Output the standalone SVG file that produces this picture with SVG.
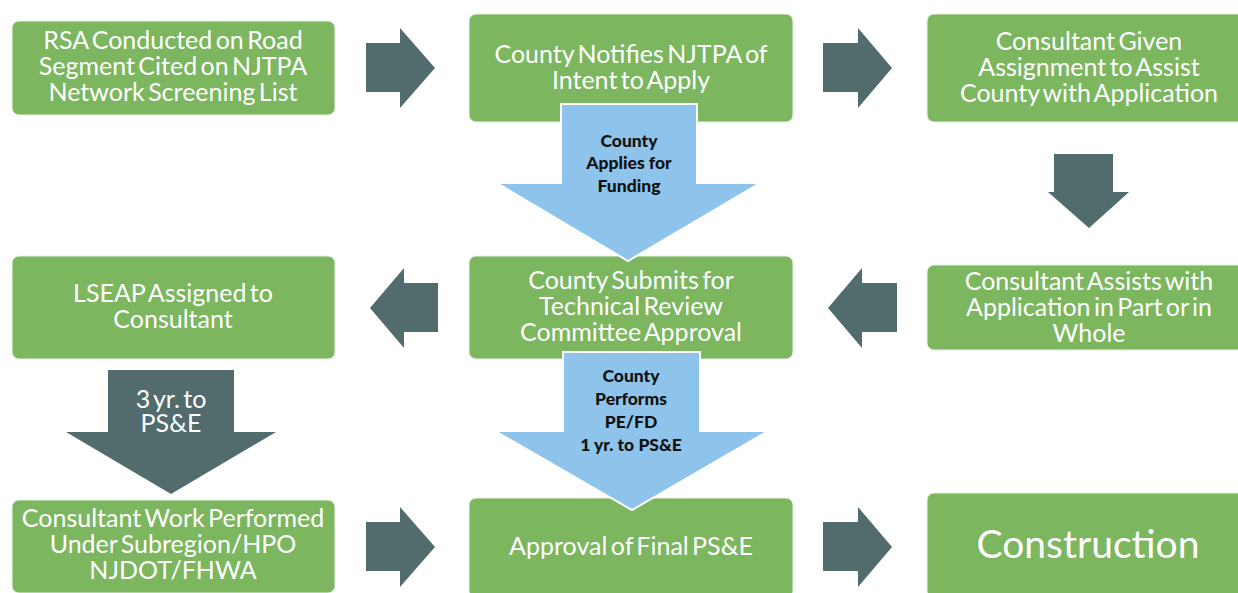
<svg xmlns="http://www.w3.org/2000/svg" width="1238" height="593" viewBox="0 0 1238 593">
  <style>
    .box { fill: #7cb65f; stroke: #e9f2e4; stroke-width: 1; }
    .flow { fill: #526b6c; }
    .note { fill: #8ec4eb; stroke: #ffffff; stroke-width: 2; stroke-linejoin: miter; }
    .t { font-family: Lato, "Liberation Sans", sans-serif; font-size: 25px; fill: #ffffff; text-anchor: middle; word-spacing: -3px; }
    .big { font-size: 39px; word-spacing: 0; }
    .b { font-family: Lato, "Liberation Sans", sans-serif; font-weight: 900; font-size: 17.5px; fill: #111111; text-anchor: middle; }
  </style>

  <!-- process steps -->
  <g id="rsa">
    <rect class="box" x="12" y="21" width="323" height="94" rx="7"/>
    <text class="t" x="173" y="49">RSA Conducted on Road</text>
    <text class="t" x="173" y="75">Segment Cited on NJTPA</text>
    <text class="t" x="173" y="101">Network Screening List</text>
  </g>
  <g id="notify">
    <rect class="box" x="469" y="14" width="324" height="108" rx="7"/>
    <text class="t" x="631" y="63">County Notifies NJTPA of</text>
    <text class="t" x="631" y="89">Intent to Apply</text>
  </g>
  <g id="consultant-given">
    <rect class="box" x="927" y="14" width="324" height="108" rx="7"/>
    <text class="t" x="1089" y="50">Consultant Given</text>
    <text class="t" x="1089" y="76">Assignment to Assist</text>
    <text class="t" x="1089" y="102">County with Application</text>
  </g>
  <g id="lseap">
    <rect class="box" x="12" y="256" width="323" height="103" rx="7"/>
    <text class="t" x="173" y="302">LSEAP Assigned to</text>
    <text class="t" x="173" y="328">Consultant</text>
  </g>
  <g id="submits">
    <rect class="box" x="469" y="256" width="324" height="103" rx="7"/>
    <text class="t" x="631" y="289">County Submits for</text>
    <text class="t" x="631" y="315">Technical Review</text>
    <text class="t" x="631" y="341">Committee Approval</text>
  </g>
  <g id="assists">
    <rect class="box" x="927" y="265" width="324" height="85" rx="7"/>
    <text class="t" x="1089" y="290">Consultant Assists with</text>
    <text class="t" x="1089" y="316">Application in Part or in</text>
    <text class="t" x="1089" y="342">Whole</text>
  </g>
  <g id="work">
    <rect class="box" x="12" y="500" width="323" height="93" rx="7"/>
    <text class="t" x="173" y="527">Consultant Work Performed</text>
    <text class="t" x="173" y="553">Under Subregion/HPO</text>
    <text class="t" x="173" y="579">NJDOT/FHWA</text>
  </g>
  <g id="final">
    <rect class="box" x="469" y="498" width="324" height="100" rx="7"/>
    <text class="t" x="631" y="555">Approval of Final PS&amp;E</text>
  </g>
  <g id="construction">
    <rect class="box" x="927" y="493" width="324" height="105" rx="7"/>
    <text class="t big" x="1088" y="558">Construction</text>
  </g>

  <!-- connectors -->
  <g id="connectors">
    <polygon class="flow" points="366,43 400,43 400,28 435,68 400,108 400,92 366,92"/>
    <polygon class="flow" points="823,43 858,43 858,28 892,68 858,108 858,92 823,92"/>
    <polygon class="flow" points="1054,154 1113,154 1113,192 1129,192 1089,228 1048,192 1054,192"/>
    <polygon class="flow" points="897,283 862,283 862,268 828,308 862,348 862,332 897,332"/>
    <polygon class="flow" points="438,283 404,283 404,268 370,308 404,348 404,332 438,332"/>
    <polygon class="flow" points="108,370 234,370 234,432 276,432 171,494 66,432 108,432"/>
    <text class="t" x="171" y="408">3 yr. to</text>
    <text class="t" x="171" y="432">PS&amp;E</text>
    <polygon class="flow" points="366,522 400,522 400,507 435,547 400,587 400,571 366,571"/>
    <polygon class="flow" points="823,522 858,522 858,507 892,547 858,587 858,571 823,571"/>

    <polygon class="note" points="561,104 697,104 697,183 760,183 628,261 497,183 561,183"/>
    <text class="b" x="629" y="147">County</text>
    <text class="b" x="629" y="169">Applies for</text>
    <text class="b" x="629" y="192">Funding</text>

    <polygon class="note" points="563,352 700,352 700,431 768,431 632,510 495,431 563,431"/>
    <text class="b" x="631" y="382">County</text>
    <text class="b" x="631" y="405">Performs</text>
    <text class="b" x="631" y="428">PE/FD</text>
    <text class="b" x="631" y="451">1 yr. to PS&amp;E</text>
  </g>
</svg>
